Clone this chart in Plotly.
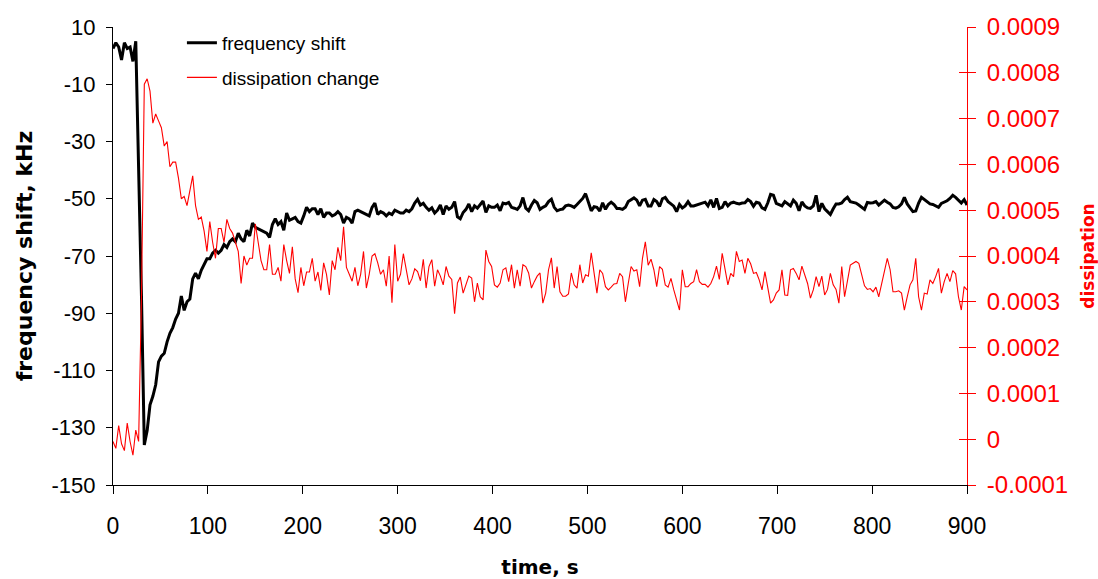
import plotly.graph_objects as go

# time axis, seconds (one reading every 3 s)
time_s = list(range(0, 901, 3))

# frequency shift, kHz (one row = 30 s)
freq_shift = [
    2.5, 4.5, 3, -1.5, 4.5, 2.5, 3, -2, 5, -38,
    -84, -136, -131, -122, -119, -115, -107, -105, -104, -100,
    -97, -95, -92, -90, -84, -89, -86, -85, -78, -76,
    -78, -75, -73, -71, -71, -69, -68, -69, -68, -66,
    -67, -65, -64, -65, -62, -64, -65, -61, -63, -58.5,
    -60, -60.5, -61, -61.5, -62, -63.5, -59, -57, -59, -58,
    -61, -55, -57.5, -57, -56.5, -58, -58.5, -56, -53, -54.5,
    -53.5, -53.5, -55.5, -53.5, -56.5, -55, -55, -56, -55.5, -54.5,
    -55.5, -58.5, -56.5, -57, -58.5, -54.5, -54, -54.5, -55, -55.5,
    -56, -53, -51.5, -55.5, -54.5, -55, -56, -55, -55.5, -54,
    -54.5, -55, -55, -54, -54.5, -53.5, -51.5, -50.2, -52.2, -51.6,
    -53, -54, -53.2, -55, -54, -52.2, -55.5, -52.5, -53.7, -53,
    -51, -56.3, -57, -54.8, -53.7, -51.8, -54.5, -52.5, -53.3, -52.2,
    -50.8, -54.8, -52.5, -53, -53, -52.2, -54.2, -51.5, -51.8, -51.3,
    -53, -53.3, -53.7, -52.5, -49.6, -53.3, -54.2, -52.2, -50.6, -51.4,
    -53.7, -53, -52.5, -51, -50.2, -53, -54.2, -53.8, -53.6, -52.5,
    -52.2, -52.5, -53, -52, -51, -49.9, -48.2, -51, -54.2, -52.8,
    -53, -54.3, -51.4, -53.7, -52, -51.2, -52, -53.4, -53.4, -53.7,
    -53, -51, -50.3, -49.7, -50.5, -52.5, -50.5, -50.2, -52.5, -52.5,
    -50.3, -51, -52.7, -50, -49.5, -51, -51.8, -52.6, -54.5, -52,
    -53.2, -52.5, -51, -52.5, -52.5, -52.2, -51.8, -51.5, -51.2, -52.5,
    -50.4, -53, -49.9, -53.4, -53, -51, -52.5, -51.5, -51.2, -51.6,
    -51.8, -51.5, -51.4, -50.3, -51, -52.6, -51.2, -51.5, -53.2, -53.7,
    -51.5, -48.5, -48.8, -51.6, -52, -52.5, -51, -51.8, -52.5, -50.5,
    -51.6, -54.2, -51.1, -52.5, -53.2, -53.4, -52.5, -48.8, -54.5, -51.6,
    -53.5, -54.5, -55.5, -53.5, -51.8, -51.8, -51.5, -50.3, -49.5, -51,
    -51.3, -51.5, -52.2, -53, -53.7, -51.3, -51.5, -51.4, -51, -52.2,
    -51.2, -50.5, -51.2, -51.8, -53, -53.3, -52.8, -51.8, -49.5, -51.8,
    -53.2, -54.5, -54.3, -51.5, -49.5, -50.2, -51, -51.8, -52, -52.5,
    -53, -51.6, -51.2, -50.7, -49.9, -48.8, -49.5, -50.5, -51.5, -50.3,
    -52.2,
]

# dissipation change (one row = 30 s)
dissipation = [
    -0.05e-4, -0.2e-4, 0.3e-4, -0.1e-4, -0.25e-4, 0.35e-4, -0.05e-4, -0.35e-4, 0.2e-4, -0.05e-4,
    3.1e-4, 7.75e-4, 7.87e-4, 7.6e-4, 6.9e-4, 7.1e-4, 6.95e-4, 6.8e-4, 6.4e-4, 6.5e-4,
    5.95e-4, 6.05e-4, 6.05e-4, 5.7e-4, 5.25e-4, 5.3e-4, 5.1e-4, 5.4e-4, 5.75e-4, 5.1e-4,
    4.8e-4, 4.85e-4, 4.55e-4, 4.1e-4, 4.75e-4, 4.3e-4, 3.95e-4, 4.6e-4, 4.6e-4, 4.3e-4,
    4.8e-4, 4.6e-4, 4.5e-4, 4.3e-4, 4.1e-4, 3.4e-4, 4.0e-4, 3.8e-4, 3.95e-4, 3.95e-4,
    4.7e-4, 4.3e-4, 3.9e-4, 3.7e-4, 3.7e-4, 4.25e-4, 3.6e-4, 3.6e-4, 3.75e-4, 3.45e-4,
    4.25e-4, 3.9e-4, 3.62e-4, 4.2e-4, 3.5e-4, 3.2e-4, 3.75e-4, 3.35e-4, 3.65e-4, 3.65e-4,
    3.95e-4, 3.45e-4, 3.65e-4, 3.25e-4, 3.85e-4, 3.6e-4, 3.15e-4, 3.9e-4, 3.7e-4, 4.19e-4,
    3.9e-4, 4.64e-4, 3.75e-4, 3.6e-4, 3.45e-4, 3.75e-4, 3.35e-4, 3.6e-4, 4.1e-4, 3.3e-4,
    3.6e-4, 4.0e-4, 4.05e-4, 3.85e-4, 3.6e-4, 3.7e-4, 3.34e-4, 4.0e-4, 2.98e-4, 4.25e-4,
    3.45e-4, 3.6e-4, 4.05e-4, 3.71e-4, 3.37e-4, 3.5e-4, 3.72e-4, 3.66e-4, 3.46e-4, 3.93e-4,
    3.3e-4, 3.77e-4, 3.92e-4, 3.34e-4, 3.7e-4, 3.56e-4, 3.37e-4, 3.77e-4, 3.56e-4, 3.49e-4,
    2.74e-4, 3.41e-4, 3.54e-4, 3.19e-4, 3.37e-4, 3.56e-4, 3.52e-4, 3.0e-4, 3.41e-4, 3.11e-4,
    3.04e-4, 4.13e-4, 3.88e-4, 3.77e-4, 3.37e-4, 3.32e-4, 3.41e-4, 3.7e-4, 3.74e-4, 3.44e-4,
    3.81e-4, 3.3e-4, 3.7e-4, 3.34e-4, 3.81e-4, 3.77e-4, 3.63e-4, 3.3e-4, 3.44e-4, 3.56e-4,
    3.63e-4, 2.97e-4, 3.19e-4, 3.7e-4, 3.96e-4, 3.3e-4, 3.77e-4, 3.22e-4, 3.12e-4, 3.12e-4,
    3.17e-4, 3.63e-4, 3.37e-4, 3.3e-4, 3.81e-4, 3.41e-4, 3.59e-4, 3.56e-4, 4.07e-4, 3.62e-4,
    3.19e-4, 3.7e-4, 3.62e-4, 3.33e-4, 3.26e-4, 3.32e-4, 3.39e-4, 3.4e-4, 3.62e-4, 3.55e-4,
    3.0e-4, 3.4e-4, 3.77e-4, 3.67e-4, 3.7e-4, 3.33e-4, 3.95e-4, 4.31e-4, 3.8e-4, 3.93e-4,
    3.7e-4, 3.33e-4, 3.77e-4, 3.71e-4, 3.37e-4, 3.32e-4, 3.51e-4, 3.26e-4, 3.04e-4, 2.82e-4,
    3.7e-4, 3.33e-4, 3.33e-4, 3.4e-4, 3.44e-4, 3.7e-4, 3.44e-4, 3.38e-4, 3.38e-4, 3.32e-4,
    3.4e-4, 3.55e-4, 3.78e-4, 3.49e-4, 4.06e-4, 3.7e-4, 3.37e-4, 3.62e-4, 3.55e-4, 4.1e-4,
    3.88e-4, 3.91e-4, 3.62e-4, 3.95e-4, 3.83e-4, 3.62e-4, 3.64e-4, 3.48e-4, 3.26e-4, 3.66e-4,
    3.33e-4, 2.97e-4, 3.04e-4, 3.19e-4, 3.26e-4, 3.7e-4, 3.15e-4, 3.14e-4, 3.7e-4, 3.73e-4,
    3.62e-4, 3.48e-4, 3.78e-4, 3.56e-4, 3.4e-4, 3.08e-4, 3.26e-4, 3.55e-4, 3.33e-4, 3.56e-4,
    3.15e-4, 3.27e-4, 3.62e-4, 3.37e-4, 3.27e-4, 2.97e-4, 3.77e-4, 3.11e-4, 3.48e-4, 3.8e-4,
    3.84e-4, 3.88e-4, 3.84e-4, 3.62e-4, 3.35e-4, 3.27e-4, 3.29e-4, 3.22e-4, 3.32e-4, 3.11e-4,
    3.4e-4, 3.66e-4, 3.95e-4, 3.7e-4, 3.22e-4, 3.22e-4, 3.24e-4, 3.19e-4, 2.82e-4, 3.11e-4,
    3.37e-4, 3.48e-4, 3.95e-4, 3.11e-4, 2.82e-4, 3.19e-4, 3.17e-4, 3.48e-4, 3.4e-4, 3.55e-4,
    3.73e-4, 3.19e-4, 3.44e-4, 3.62e-4, 3.44e-4, 3.68e-4, 3.61e-4, 3.11e-4, 2.82e-4, 3.33e-4,
    3.26e-4,
]

x_ticks = [0, 100, 200, 300, 400, 500, 600, 700, 800, 900]
left_ticks = [-150, -130, -110, -90, -70, -50, -30, -10, 10]
left_tick_text = ["-150", "-130", "-110", "-90", "-70", "-50", "-30", "-10", "10"]
right_ticks = [-0.0001, 0, 0.0001, 0.0002, 0.0003, 0.0004, 0.0005, 0.0006, 0.0007, 0.0008, 0.0009]
right_tick_text = ["-0.0001", "0", "0.0001", "0.0002", "0.0003", "0.0004",
                   "0.0005", "0.0006", "0.0007", "0.0008", "0.0009"]

FONT = "Liberation Sans, Arial, sans-serif"
TITLE_FONT = "DejaVu Sans, sans-serif"

fig = go.Figure()
fig.add_trace(go.Scatter(
    x=time_s, y=freq_shift, name="frequency shift", mode="lines",
    line=dict(color="black", width=3), yaxis="y", legendgroup="f"))
fig.add_trace(go.Scatter(
    x=time_s, y=dissipation, name="dissipation change", mode="lines",
    line=dict(color="#ff0000", width=1.1), yaxis="y2", legendgroup="d"))
# invisible helper so the inner (crossing) tick marks of the right axis are drawn
fig.add_trace(go.Scatter(x=[0], y=[0.0004], yaxis="y3", mode="markers",
                         marker=dict(opacity=0), showlegend=False, hoverinfo="skip"))

fig.update_layout(
    width=1098, height=579,
    margin=dict(l=113, r=131, t=27, b=94, autoexpand=False),
    paper_bgcolor="white", plot_bgcolor="white",
    font=dict(family=FONT, color="black"),
    showlegend=True,
    legend=dict(x=0.0807, y=1.007, xanchor="left", yanchor="top",
                bgcolor="rgba(0,0,0,0)", font=dict(size=19, family=FONT),
                traceorder="grouped", tracegroupgap=7),
    xaxis=dict(range=[0, 900], tickvals=x_ticks, ticks="outside", ticklen=8,
               tickcolor="black", showline=True, linecolor="black", linewidth=1,
               showgrid=False, zeroline=False, tickfont=dict(size=23),
               ticklabelstandoff=12, automargin=False,
               title=dict(text="<b>time, s</b>", font=dict(size=20, family=TITLE_FONT),
                          standoff=22)),
    yaxis=dict(range=[-150, 10], tickvals=left_ticks, ticktext=left_tick_text,
               ticks="outside", ticklen=6,
               tickcolor="black", showline=True, linecolor="black", linewidth=1,
               showgrid=False, zeroline=False, tickfont=dict(size=22),
               ticklabelstandoff=6, automargin=False,
               title=dict(text="<b>frequency shift, kHz</b>",
                          font=dict(size=22, family=TITLE_FONT), standoff=12)),
    yaxis2=dict(overlaying="y", side="right", range=[-0.0001, 0.0009],
                tickvals=right_ticks, ticktext=right_tick_text,
                ticks="outside", ticklen=8, tickcolor="#ff0000",
                showline=True, linecolor="#ff0000", linewidth=1,
                showgrid=False, zeroline=False, automargin=False,
                tickfont=dict(size=24, color="#ff0000"), ticklabelstandoff=6,
                title=dict(text="<b>dissipation</b>",
                           font=dict(size=17, color="#ff0000", family=TITLE_FONT),
                           standoff=24)),
    yaxis3=dict(overlaying="y", side="right", range=[-0.0001, 0.0009],
                tickvals=right_ticks, ticks="inside", ticklen=8, tickcolor="#ff0000",
                showticklabels=False, showline=False, showgrid=False, zeroline=False,
                automargin=False),
)

fig.write_html("out.html")
